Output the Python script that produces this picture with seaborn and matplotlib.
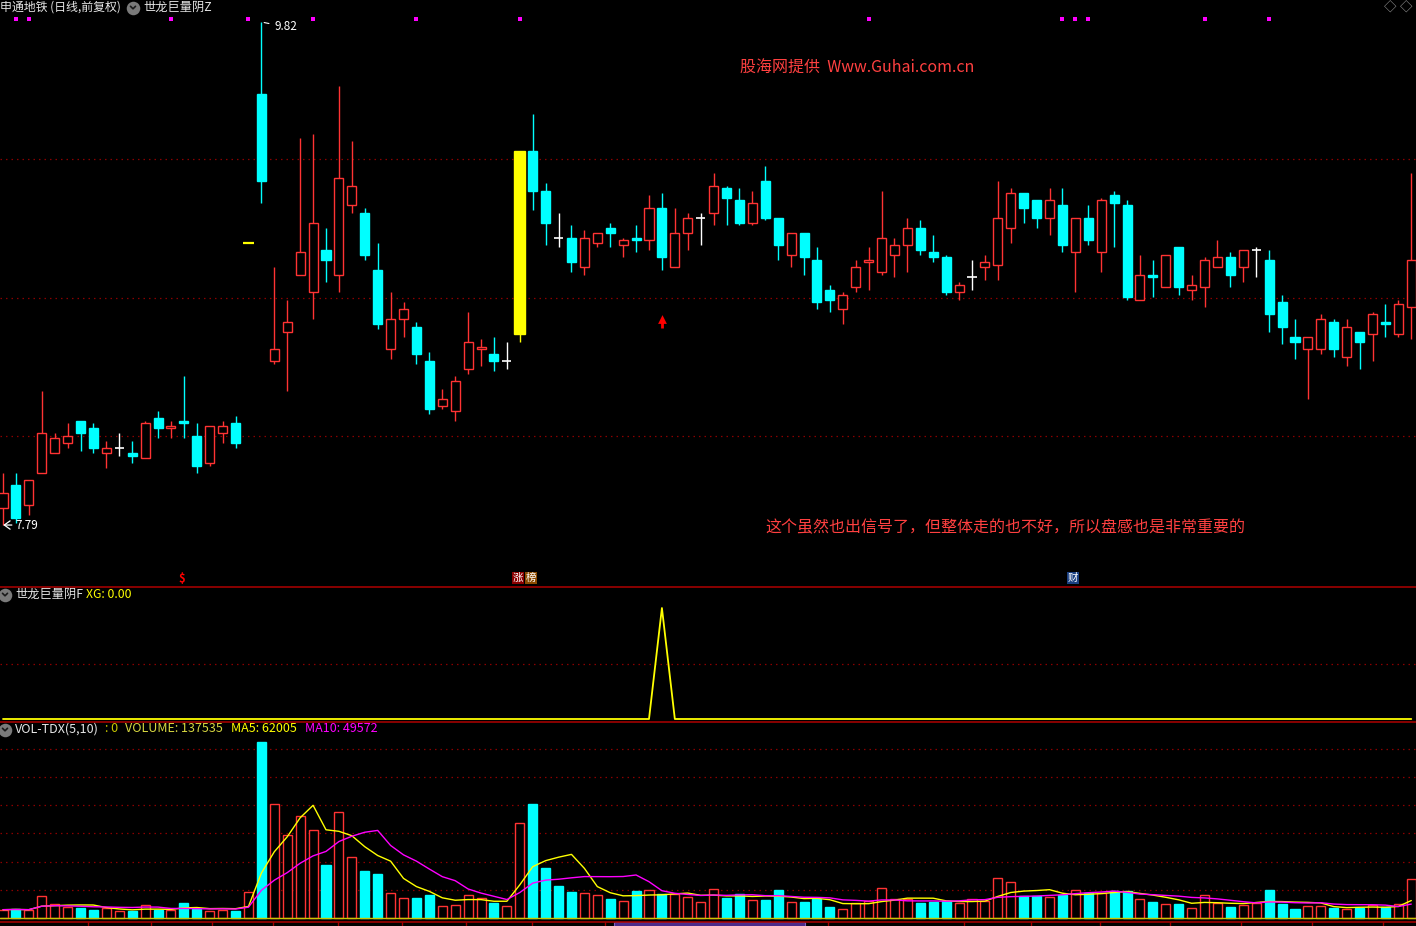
import numpy as np
import pandas as pd
import matplotlib
matplotlib.use("Agg")
import matplotlib.pyplot as plt
import seaborn as sns

# ---------------- data ----------------
opens = [7.86, 7.95, 7.87, 8.00, 8.08, 8.12, 8.21, 8.18, 8.08, 8.10,
         8.08, 8.06, 8.22, 8.18, 8.21, 8.15, 8.04, 8.16, 8.20, 8.93,
         9.53, 8.45, 8.57, 8.80, 8.73, 8.90, 8.80, 9.08, 9.05, 8.82,
         8.50, 8.62, 8.59, 8.45, 8.27, 8.25, 8.42, 8.50, 8.48, 8.45,
         8.56, 9.30, 9.14, 8.95, 8.95, 8.83, 8.93, 8.99, 8.92, 8.95,
         8.94, 9.07, 8.83, 8.97, 9.03, 9.05, 9.15, 9.10, 9.01, 9.18,
         9.03, 8.88, 8.97, 8.86, 8.74, 8.66, 8.75, 8.85, 8.81, 8.88,
         8.92, 8.99, 8.89, 8.87, 8.73, 8.79, 8.83, 8.84, 8.99, 9.13,
         9.10, 9.03, 9.08, 8.89, 9.03, 8.89, 9.12, 9.08, 8.70, 8.80,
         8.75, 8.91, 8.74, 8.75, 8.83, 8.87, 8.83, 8.90, 8.86, 8.69,
         8.55, 8.50, 8.50, 8.61, 8.47, 8.57, 8.56, 8.61, 8.56, 8.67]
closes = [7.92, 7.82, 7.97, 8.16, 8.14, 8.15, 8.16, 8.10, 8.10, 8.10,
          8.07, 8.20, 8.18, 8.19, 8.20, 8.03, 8.19, 8.19, 8.12, 8.93,
          9.18, 8.50, 8.61, 8.89, 9.01, 8.86, 9.19, 9.16, 8.88, 8.60,
          8.62, 8.66, 8.48, 8.26, 8.30, 8.37, 8.53, 8.51, 8.45, 8.45,
          9.30, 9.14, 9.01, 8.95, 8.85, 8.95, 8.97, 8.97, 8.94, 8.94,
          9.07, 8.87, 8.97, 9.03, 9.03, 9.16, 9.11, 9.01, 9.09, 9.03,
          8.92, 8.97, 8.87, 8.69, 8.70, 8.72, 8.83, 8.86, 8.95, 8.92,
          8.99, 8.90, 8.87, 8.73, 8.76, 8.79, 8.85, 9.03, 9.13, 9.07,
          9.03, 9.10, 8.92, 9.03, 8.94, 9.10, 9.09, 8.71, 8.80, 8.79,
          8.88, 8.75, 8.76, 8.86, 8.87, 8.80, 8.90, 8.90, 8.64, 8.59,
          8.53, 8.55, 8.62, 8.50, 8.59, 8.53, 8.64, 8.60, 8.68, 8.86]
highs = [8.00, 8.00, 7.97, 8.33, 8.16, 8.20, 8.21, 8.20, 8.13, 8.16,
         8.13, 8.21, 8.25, 8.21, 8.39, 8.20, 8.19, 8.21, 8.23, 8.93,
         9.82, 8.83, 8.70, 9.35, 9.37, 8.99, 9.56, 9.34, 9.07, 8.93,
         8.73, 8.69, 8.61, 8.49, 8.34, 8.39, 8.65, 8.54, 8.55, 8.53,
         9.30, 9.45, 9.17, 9.05, 9.00, 8.98, 8.97, 9.01, 8.95, 9.00,
         9.12, 9.13, 9.07, 9.05, 9.05, 9.21, 9.16, 9.15, 9.14, 9.24,
         9.03, 8.97, 8.97, 8.91, 8.76, 8.73, 8.86, 8.91, 9.14, 8.95,
         9.03, 9.02, 8.96, 8.88, 8.77, 8.86, 8.88, 9.18, 9.15, 9.13,
         9.10, 9.15, 9.15, 9.03, 9.08, 9.11, 9.14, 9.10, 8.88, 8.86,
         8.88, 8.91, 8.80, 8.87, 8.94, 8.89, 8.90, 8.91, 8.90, 8.72,
         8.62, 8.55, 8.64, 8.62, 8.62, 8.57, 8.65, 8.68, 8.70, 9.21]
lows = [7.79, 7.80, 7.83, 8.00, 8.08, 8.10, 8.09, 8.08, 8.02, 8.07,
        8.04, 8.06, 8.14, 8.14, 8.14, 8.00, 8.03, 8.12, 8.10, 8.93,
        9.09, 8.44, 8.33, 8.80, 8.62, 8.77, 8.73, 9.05, 8.86, 8.58,
        8.46, 8.55, 8.44, 8.24, 8.26, 8.21, 8.40, 8.43, 8.41, 8.42,
        8.53, 9.06, 8.92, 8.91, 8.81, 8.80, 8.91, 8.91, 8.87, 8.89,
        8.90, 8.82, 8.83, 8.90, 8.92, 9.00, 9.00, 9.00, 9.00, 9.02,
        8.86, 8.83, 8.80, 8.66, 8.65, 8.60, 8.73, 8.74, 8.80, 8.79,
        8.81, 8.88, 8.85, 8.72, 8.70, 8.74, 8.78, 8.78, 8.93, 9.01,
        8.99, 8.96, 8.89, 8.73, 8.92, 8.81, 8.91, 8.70, 8.70, 8.71,
        8.75, 8.72, 8.70, 8.67, 8.83, 8.75, 8.77, 8.79, 8.57, 8.52,
        8.46, 8.30, 8.48, 8.47, 8.43, 8.42, 8.45, 8.55, 8.55, 8.54]
volumes = [29500, 31000, 28000, 79000, 51000, 39000, 34000, 27000, 34000, 26000,
           24000, 46000, 27000, 30000, 52000, 31000, 26000, 30000, 26000, 92000,
           623000, 404000, 295000, 363000, 313000, 189000, 377000, 217000, 168000, 157000,
           89000, 71000, 72000, 83000, 43000, 46000, 83000, 71000, 54000, 43000,
           337000, 405000, 178000, 115000, 93000, 89000, 82000, 69000, 60000, 97000,
           99000, 86000, 86000, 74000, 57000, 103000, 72000, 86000, 64000, 65000,
           100000, 57000, 58000, 69000, 40000, 32000, 54000, 59000, 106000, 66000,
           67000, 54000, 58000, 59000, 54000, 67000, 61000, 142000, 128000, 79000,
           77000, 76000, 80000, 100000, 88000, 89000, 96000, 96000, 67000, 58000,
           50000, 51000, 35000, 82000, 53000, 40000, 46000, 54000, 100000, 51000,
           31000, 41000, 44000, 35000, 33000, 37000, 45000, 40000, 50000, 137535]
highlight_idx = [19, 40]          # candles drawn in yellow by the indicator
xg_signal_idx = [51]              # XG = 1 on this bar (red arrow)
top_marker_idx = [1, 2, 13, 19, 24, 32, 40, 67, 82, 83, 84, 93, 98]

# ---------------- style ----------------
sns.set_theme(style="dark", rc={"axes.facecolor": "black", "figure.facecolor": "black"})
plt.rcParams["font.family"] = ["Noto Sans CJK SC", "DejaVu Sans"]

RED = "#ff3333"
CYAN = "#00ffff"
GRID = "#8b0000"
SEP = "#a00000"

W, H = 1416, 926
fig = plt.figure(figsize=(W / 100, H / 100), dpi=100)
fig.patch.set_facecolor("black")

n = len(opens)
idx = np.arange(n)
X0_PX, DX_PX = 3.0, 12.92
XLIM = (-X0_PX / DX_PX, (W - X0_PX) / DX_PX)


def add_panel(top, bottom):
    ax = fig.add_axes([0, 1 - bottom / H, 1, (bottom - top) / H])
    ax.set_facecolor("black")
    ax.set_xlim(*XLIM)
    ax.set_axis_off()
    return ax


# ---------------- main candle panel ----------------
ax = add_panel(0, 587)
PPX = 247.8                      # pixels per 1.00 of price
P_TOP = 9.82 + 22 / PPX


def py(y):
    return P_TOP - y / PPX


ax.set_ylim(py(587), py(0))
for gy in (159, 298, 436):
    ax.axhline(py(gy), color=GRID, lw=0.9, ls=(0, (1.2, 3.2)), zorder=0)

for i in range(n):
    o, h, l, c = opens[i], highs[i], lows[i], closes[i]
    if i in highlight_idx:
        col, fill, w = "yellow", "yellow", 0.85
    elif c > o:
        col, fill, w = RED, "black", 0.7
    elif c < o:
        col, fill, w = CYAN, CYAN, 0.7
    else:
        col, fill, w = "white", "white", 0.7
    top, bot = max(o, c), min(o, c)
    if c == o:
        ax.vlines(i, l, h, color=col, lw=1.0, zorder=3)
        ax.hlines(o, i - w / 2, i + w / 2, color=col, lw=1.6 if i in highlight_idx else 1.2, zorder=3)
    else:
        if h > top:
            ax.vlines(i, top, h, color=col, lw=1.0, zorder=3)
        if l < bot:
            ax.vlines(i, l, bot, color=col, lw=1.0, zorder=3)
        ax.bar(i, top - bot, bottom=bot, width=w, facecolor=fill, edgecolor=col,
               linewidth=1.0, zorder=4)

# magenta markers along the top
ax.scatter(top_marker_idx, [py(19)] * len(top_marker_idx), marker="s", s=6,
           color="#ff00ff", linewidths=0, zorder=5)

# red signal arrow (stem + head)
for s in xg_signal_idx:
    ax.vlines(s, py(328), py(319), color="red", lw=2.0, zorder=5)
    ax.scatter([s], [py(318.5)], marker="^", s=40, color="red", linewidths=0, zorder=6)

# high / low labels
i_hi = int(np.argmax(highs))
i_lo = int(np.argmin(lows))
ax.annotate(f"{highs[i_hi]:.2f}", xy=(i_hi, highs[i_hi]), xytext=(i_hi + 1.05, py(27)),
            color="white", fontsize=8.5, va="center",
            arrowprops=dict(arrowstyle="-", color="white", lw=0.8))
ax.annotate("", xy=(i_lo - 0.2, lows[i_lo]), xytext=(i_lo + 0.9, lows[i_lo]),
            arrowprops=dict(arrowstyle="->,head_width=0.25,head_length=0.35",
                            color="white", lw=0.9))
ax.text(i_lo + 0.95, lows[i_lo], f"{lows[i_lo]:.2f}", color="white", fontsize=8.5,
        va="center")

# ---------------- XG panel ----------------
axx = add_panel(587, 721)
XPX = 111.0
axx.set_ylim(-2 / XPX, 132 / XPX)
axx.axhline(0.5, color=GRID, lw=0.9, ls=(0, (1.2, 3.2)), zorder=0)
xg = np.zeros(n)
xg[xg_signal_idx] = 1.0
sns.lineplot(x=idx, y=xg, ax=axx, color="yellow", lw=1.3, zorder=3)
axx.set_axis_off()

# ---------------- volume panel ----------------
axv = add_panel(721, 921)
VPP = 3546.0                   # volume per pixel
axv.set_ylim(-3 * VPP, 197 * VPP)
for k in range(1, 7):
    axv.axhline(k * 100000, color=GRID, lw=0.9, ls=(0, (1.2, 3.2)), zorder=0)

vol_up = []
for i in range(n):
    if closes[i] > opens[i]:
        vol_up.append(True)
    elif closes[i] < opens[i]:
        vol_up.append(False)
    else:
        vol_up.append(i == 0 or closes[i] >= closes[i - 1])
vol_up = np.array(vol_up)
vols = np.array(volumes, dtype=float)
axv.bar(idx[vol_up], vols[vol_up], width=0.7, facecolor="black", edgecolor=RED,
        linewidth=1.0, zorder=3)
axv.bar(idx[~vol_up], vols[~vol_up], width=0.7, facecolor=CYAN, edgecolor=CYAN,
        linewidth=1.0, zorder=3)
axv.axhline(0, color="#c8c800", lw=1.0, zorder=4)
ma5 = pd.Series(vols).rolling(5, min_periods=1).mean()
ma10 = pd.Series(vols).rolling(10, min_periods=1).mean()
sns.lineplot(x=idx, y=ma5.values, ax=axv, color="yellow", lw=1.0, zorder=5)
sns.lineplot(x=idx, y=ma10.values, ax=axv, color="#ff00ff", lw=1.0, zorder=5)
axv.set_axis_off()

# ---------------- overlay (panel frames, headers, notes) ----------------
ov = fig.add_axes([0, 0, 1, 1])
ov.set_xlim(0, W)
ov.set_ylim(H, 0)
ov.set_axis_off()
ov.patch.set_alpha(0)

ov.axhline(587, color=SEP, lw=1.2)
ov.axhline(721.5, color=SEP, lw=1.2)
ov.axhline(921.5, color=SEP, lw=1.2)
for tx in (88, 151, 212, 273, 338, 402, 466, 532, 605, 828, 964, 1031, 1100, 1170, 1241, 1312, 1383):
    ov.plot([tx, tx], [921.5, 925], color=SEP, lw=1.0)
ov.add_patch(plt.Rectangle((614, 921.5), 191, 6, facecolor="#4b2a8a", edgecolor="#8060c0", lw=0.8))


def icon(x, y):
    ov.scatter([x], [y], s=95, color="#7a7a7a", zorder=6, linewidths=0)
    ov.plot([x - 2.5, x, x + 2.5], [y - 1.2, y + 1.3, y - 1.2], color="#1a1a1a", lw=1.2, zorder=7)


def T(x, y, s, color, size=8.8, **kw):
    ov.text(x, y, s, color=color, fontsize=size, va="center", ha=kw.pop("ha", "left"), **kw)


T(0, 7, "申通地铁 (日线,前复权)", "#e6e6e6", 8.6)
icon(133, 7.5)
T(143, 7, "世龙巨量阴Z", "#e6e6e6")
T(1390, 8, "◇", "#a0a0a0", 9, ha="center")
T(1406, 8, "◇", "#a0a0a0", 9, ha="center")

T(740, 68, "股海网提供  Www.Guhai.com.cn", "#ff4040", 11.5)
T(765, 528, "这个虽然也出信号了，但整体走的也不好，所以盘感也是非常重要的", "#ff4040", 11.5)

T(182, 578, "$", "red", 8, ha="center", fontweight="bold")
T(518, 578, "涨", "white", 7.5, ha="center",
  bbox=dict(boxstyle="square,pad=0.08", fc="#8b0000", ec="none"))
T(531, 578, "榜", "white", 7.5, ha="center",
  bbox=dict(boxstyle="square,pad=0.08", fc="#8b4a00", ec="none"))
T(1073, 578, "财", "white", 7.5, ha="center",
  bbox=dict(boxstyle="square,pad=0.08", fc="#1a3f80", ec="none"))

icon(5, 594.5)
T(15, 594, "世龙巨量阴F", "#e6e6e6")
T(86, 594, "XG: 0.00", "#ffff00")

icon(5, 729.5)
T(15, 729, "VOL-TDX(5,10)", "#e6e6e6", 9)
T(105, 729, ": 0", "#c8c800", 9)
T(125, 729, "VOLUME: 137535", "#d8d840", 9)
T(231, 729, "MA5: 62005", "#ffff00", 9)
T(305, 729, "MA10: 49572", "#ff00ff", 9)

fig.savefig("out.png", dpi=100, facecolor="black")
